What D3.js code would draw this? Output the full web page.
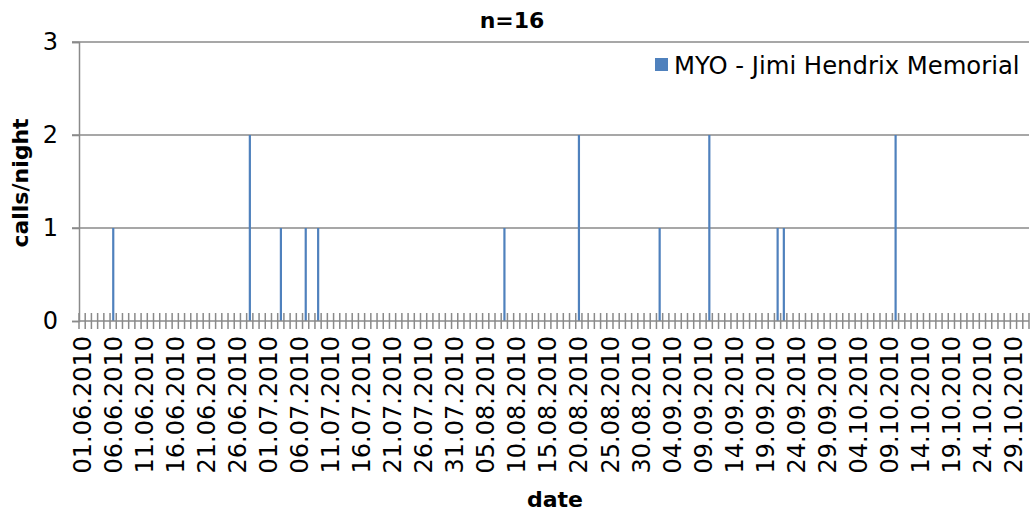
<!DOCTYPE html>
<html><head><meta charset="utf-8">
<script src="https://cdn.jsdelivr.net/npm/d3@7"></script>
<style>body{margin:0;background:#fff}svg{display:block}text{font-family:"DejaVu Sans",Verdana,sans-serif;fill:#000}</style>
</head><body><svg id="c" width="1034" height="517"></svg>
<script>
const startDate = "01.06.2010";
const endDate = "31.10.2010";
const callDates = ["06.06.2010","28.06.2010","03.07.2010","07.07.2010","09.07.2010","08.08.2010","20.08.2010","02.09.2010","10.09.2010","21.09.2010","22.09.2010","10.10.2010"];
const callCounts = [1,2,1,1,1,1,2,1,2,1,1,2];
const yTicks = [0,1,2,3];
const seriesName = "MYO - Jimi Hendrix Memorial";
const titleText = "n=16";
const xTitle = "date";
const yTitle = "calls/night";

const parse = d3.timeParse("%d.%m.%Y"), fmt = d3.timeFormat("%d.%m.%Y");
const days = d3.timeDay.range(parse(startDate), d3.timeDay.offset(parse(endDate),1)).map(fmt);
const countMap = new Map(callDates.map((d,i)=>[d,callCounts[i]]));
const data = days.map(d=>({date:d, value:countMap.get(d)||0}));

const svg = d3.select("#c");
const L=79, R=1029, T=42, B=321;
const x = d3.scaleBand().domain(days).range([L,R]).padding(0);
const y = d3.scaleLinear().domain([0,3]).range([B,T]);
const grid="#8a8a8a";

svg.append("g").selectAll("line").data(yTicks.filter(v=>v>0)).join("line")
  .attr("x1",L-7).attr("x2",R).attr("y1",d=>y(d)).attr("y2",d=>y(d))
  .attr("stroke",grid).attr("stroke-width",1.5);

const ya = svg.append("g").attr("transform",`translate(${L},0)`)
  .call(d3.axisLeft(y).tickValues(yTicks).tickSize(7).tickPadding(14).tickFormat(d3.format("d")));
ya.select(".domain").attr("stroke",grid).attr("stroke-width",1.5);
ya.selectAll(".tick line").attr("stroke",grid).attr("stroke-width",1.5);
ya.selectAll("text").attr("font-size","24px").attr("font-family","DejaVu Sans").attr("fill","#000");

svg.append("g").selectAll("rect").data(data.filter(d=>d.value>0)).join("rect")
  .attr("x",d=>x(d.date)+x.bandwidth()/2-1).attr("width",2.2)
  .attr("y",d=>y(d.value)).attr("height",d=>B-y(d.value))
  .attr("fill","#4F81BD");

svg.append("line").attr("x1",L).attr("x2",R).attr("y1",B).attr("y2",B).attr("stroke",grid).attr("stroke-width",1.5);
const bounds = days.map(d=>x(d)).concat([R]);
svg.append("g").selectAll("line").data(bounds).join("line")
  .attr("x1",d=>d).attr("x2",d=>d).attr("y1",B-8).attr("y2",B+8)
  .attr("stroke",grid).attr("stroke-width",1.5);

svg.append("g").selectAll("text").data(days.filter((d,i)=>i%5===0)).join("text")
  .attr("transform",d=>`translate(${x(d)+x.bandwidth()/2},336) rotate(-90)`)
  .attr("text-anchor","end").attr("dy","0.36em").attr("font-size","24px").text(d=>d);

svg.append("text").attr("x",512).attr("y",28).attr("text-anchor","middle").attr("font-weight","bold").attr("font-size","22px").text(titleText);
svg.append("text").attr("x",555).attr("y",507).attr("text-anchor","middle").attr("font-weight","bold").attr("font-size","22px").text(xTitle);
svg.append("text").attr("transform","translate(28,183) rotate(-90)").attr("text-anchor","middle").attr("font-weight","bold").attr("font-size","22px").text(yTitle);

svg.append("rect").attr("x",655).attr("y",58).attr("width",13).attr("height",13).attr("fill","#4F81BD");
svg.append("text").attr("x",674).attr("y",74).attr("font-size","24.3px").text(seriesName);
</script></body></html>
